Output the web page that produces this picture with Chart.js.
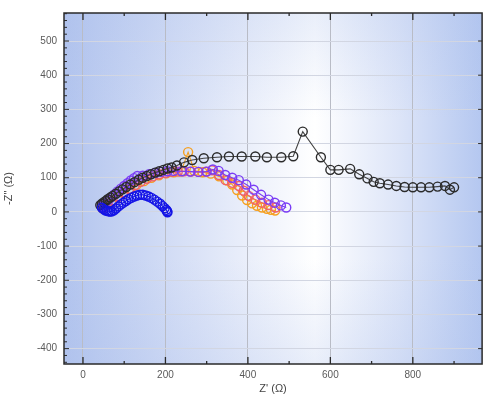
<!DOCTYPE html>
<html><head><meta charset="utf-8">
<script src="https://cdn.jsdelivr.net/npm/chart.js@4.4.1/dist/chart.umd.min.js"></script>
<style>html,body{margin:0;padding:0;background:#fff}#wrap{width:488px;height:398px}</style>
</head><body><div id="wrap"><canvas id="c" width="488" height="398"></canvas></div>
<script>
const xTicks = [0, 200, 400, 600, 800];
const xMinor = [100, 300, 500, 700, 900];
const yTicks = [-400, -300, -200, -100, 0, 100, 200, 300, 400, 500];

const blackX = [42,46,50,55,60,66,72,80,88,96,105,115,125,135,145,155,165,175,185,195,205,215,228,245,265,293,325,354,385,418,446,481,510,533,577,600,620,648,670,690,705,720,740,760,780,800,820,840,860,878,890,900];
const blackY = [20,24,28,32,37,42,47,53,60,66,73,80,87,94,100,105,110,115,119,123,127,130,136,145,152,157,160,162,162,162,160,160,163,235,160,123,123,126,110,98,88,84,80,76,73,72,72,72,74,76,65,72];

const blueX = [46,50,54,58,62,66,70,75,80,86,92,98,104,110,117,124,131,138,145,152,159,166,173,180,187,193,198,202,204,205];
const blueY = [12,8,5,3,2,1,2,5,10,16,22,27,32,37,41,45,48,50,50,48,45,41,36,30,24,17,11,6,2,-1];

const purpleX = [45,52,60,68,76,84,92,100,108,116,124,132,145,160,175,190,205,220,240,260,280,300,315,329,345,362,378,396,414,432,450,465,480,493];
const purpleY = [16,24,33,42,51,60,68,76,84,92,99,105,106,110,114,117,119,120,119,118,117,118,124,120,108,100,93,80,65,50,36,27,19,13];

const coralX = [50,60,72,85,98,112,126,140,155,170,185,200,215,230,245,262,280,298,313,330,346,362,378,390,402,418,434,450,467];
const coralY = [12,22,33,45,56,67,78,88,97,104,110,114,117,118,119,118,117,118,122,108,93,85,76,62,47,36,27,20,13];

const orangeX = [48,58,70,84,98,114,130,148,166,184,202,220,238,255,270,290,310,330,350,362,374,386,398,410,422,434,446,456,466];
const orangeY = [10,20,31,43,55,67,79,90,100,107,113,116,118,175,120,116,112,104,92,80,64,48,35,25,18,13,9,6,4];

function pts(xs, ys){ return xs.map((x,i)=>({x:x, y:ys[i]})); }
function ds(label, xs, ys, col, lineCol, order){
  return {label, data: pts(xs, ys), showLine: true, borderColor: lineCol, borderWidth: 1.1,
    pointBorderColor: col, pointBackgroundColor: 'rgba(0,0,0,0)', pointRadius: 4.5,
    pointBorderWidth: 1.4, pointHoverRadius: 4.5, order};
}

const bgPlugin = {
  id: 'bg',
  beforeDraw(chart){
    const {ctx, chartArea: a} = chart;
    ctx.save();
    const g = ctx.createLinearGradient(a.left, 0, a.right, 0);
    g.addColorStop(0, '#b2c4ee');
    g.addColorStop(0.35, '#dfe6f8');
    g.addColorStop(0.6, '#ffffff');
    g.addColorStop(0.8, '#dde5f8');
    g.addColorStop(1, '#b4c7f0');
    ctx.fillStyle = g;
    ctx.fillRect(a.left, a.top, a.right - a.left, a.bottom - a.top);
    const v = ctx.createLinearGradient(0, a.top, 0, a.bottom);
    v.addColorStop(0, 'rgba(170,190,235,0.25)');
    v.addColorStop(0.3, 'rgba(170,190,235,0)');
    v.addColorStop(0.7, 'rgba(170,190,235,0)');
    v.addColorStop(1, 'rgba(170,190,235,0.25)');
    ctx.fillStyle = v;
    ctx.fillRect(a.left, a.top, a.right - a.left, a.bottom - a.top);
    ctx.restore();
  },
  afterDraw(chart){
    const {ctx, chartArea: a, scales} = chart;
    const xs = scales.x, ys = scales.y;
    ctx.save();
    ctx.strokeStyle = '#2a2a2a';
    ctx.lineWidth = 1.5;
    ctx.strokeRect(a.left, a.top, a.right - a.left, a.bottom - a.top);
    ctx.lineWidth = 1.3;
    ctx.beginPath();
    xTicks.forEach(v=>{ const p = xs.getPixelForValue(v);
      ctx.moveTo(p, a.bottom); ctx.lineTo(p, a.bottom - 7);
      ctx.moveTo(p, a.top); ctx.lineTo(p, a.top + 7); });
    xMinor.forEach(v=>{ const p = xs.getPixelForValue(v);
      ctx.moveTo(p, a.bottom); ctx.lineTo(p, a.bottom - 3);
      ctx.moveTo(p, a.top); ctx.lineTo(p, a.top + 3); });
    ctx.stroke();
    ctx.lineWidth = 1;
    ctx.beginPath();
    for (let v = -440; v <= 580; v += 20) {
      const p = ys.getPixelForValue(v);
      const L = (v % 100 === 0) ? 5 : 3;
      ctx.moveTo(a.left, p); ctx.lineTo(a.left + L, p);
    }
    yTicks.forEach(v=>{ const p = ys.getPixelForValue(v);
      ctx.moveTo(a.right, p); ctx.lineTo(a.right - 4, p); });
    ctx.stroke();
    ctx.restore();
  }
};

new Chart(document.getElementById('c'), {
  type: 'scatter',
  data: { datasets: [
    ds('blue', blueX, blueY, '#1414e6', '#1414e6', 1),
    ds('black', blackX, blackY, '#2b2b2b', '#444444', 2),
    ds('purple', purpleX, purpleY, '#7a3cf5', '#7a3cf5', 3),
    ds('coral', coralX, coralY, '#f0606a', '#f0606a', 4),
    ds('orange', orangeX, orangeY, '#f5a020', '#f5a020', 5)
  ]},
  options: {
    responsive: false, animation: false,
    layout: { padding: { left: 0, right: 3, top: 7, bottom: 0 } },
    plugins: { legend: { display: false }, tooltip: { enabled: false } },
    scales: {
      x: {
        type: 'linear', min: -46, max: 968,
        afterBuildTicks: s => { s.ticks = xTicks.map(v => ({value: v})); },
        afterFit: s => { s.height = 34; },
        grid: { color: '#b9bcc6', lineWidth: 1, drawTicks: false },
        border: { display: false },
        ticks: { color: '#5a5a5a', font: { family: 'Liberation Sans', size: 10 }, padding: 5, callback: v => String(v) },
        title: { display: true, text: "Z' (Ω)", color: '#444', font: { family: 'Liberation Sans', size: 11 }, padding: { top: 0, bottom: 2 } }
      },
      y: {
        type: 'linear', min: -445, max: 582,
        afterBuildTicks: s => { s.ticks = yTicks.map(v => ({value: v})); },
        afterFit: s => { s.width = 64; },
        grid: { color: '#d2d6e2', lineWidth: 1, drawTicks: false },
        border: { display: false },
        ticks: { color: '#5a5a5a', font: { family: 'Liberation Sans', size: 10 }, padding: 7, callback: v => String(v) },
        title: { display: true, text: '-Z" (Ω)', color: '#444', font: { family: 'Liberation Sans', size: 11 }, padding: { top: 2, bottom: 0 } }
      }
    }
  },
  plugins: [bgPlugin]
});
</script></body></html>
